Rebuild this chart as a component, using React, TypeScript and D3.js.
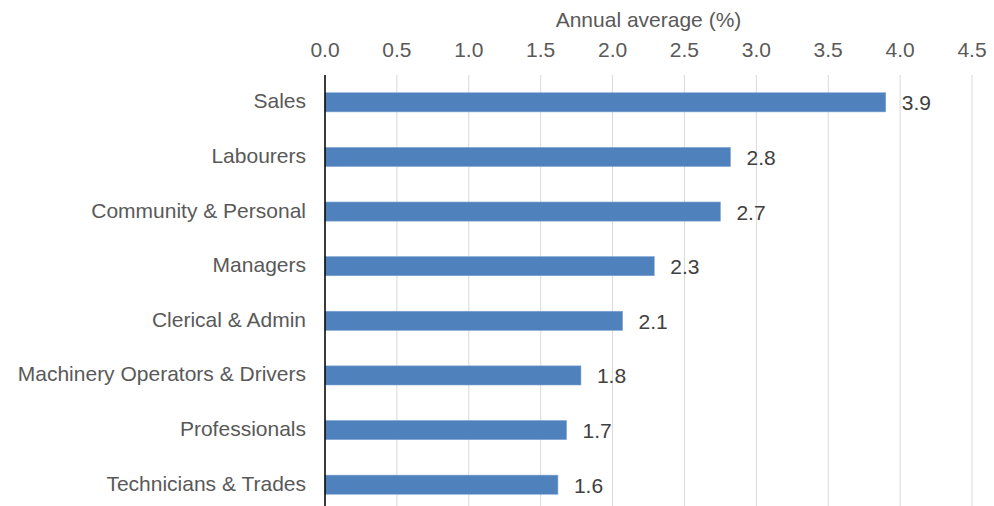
import React from "react";
import * as d3 from "d3";

const categories = [
  "Sales",
  "Labourers",
  "Community & Personal",
  "Managers",
  "Clerical & Admin",
  "Machinery Operators & Drivers",
  "Professionals",
  "Technicians & Trades",
];
const values = [3.9, 2.82, 2.75, 2.29, 2.07, 1.78, 1.68, 1.62];
const valueLabels = ["3.9", "2.8", "2.7", "2.3", "2.1", "1.8", "1.7", "1.6"];
const ticks = [0, 0.5, 1, 1.5, 2, 2.5, 3, 3.5, 4, 4.5];
const axisTitle = "Annual average (%)";

const W = 994;
const H = 506;
const left = 325;
const right = 972;
const top = 75;
const bottom = 512;

export default function App() {
  const x = d3.scaleLinear().domain([0, 4.5]).range([left, right]);
  const y = d3.scaleBand<string>().domain(categories).range([top, bottom]).paddingInner(0.65).paddingOuter(0.325);
  const font = "'Liberation Sans', Arial, sans-serif";
  const fs = 21;
  return (
    <svg width={W} height={H} style={{ position: "absolute", left: 0, top: 0 }} fontFamily={font}>
      <rect width={W} height={H} fill="#ffffff" />
      <text x={(left + right) / 2} y={27} textAnchor="middle" fontSize={fs} fill="#595959">{axisTitle}</text>
      {ticks.map((t) => (
        <g key={t}>
          <line x1={x(t)} x2={x(t)} y1={top} y2={H} stroke="#D9D9D9" strokeWidth={1} />
          <text x={x(t)} y={57} textAnchor="middle" fontSize={fs} fill="#595959">{t.toFixed(1)}</text>
        </g>
      ))}
      {categories.map((c, i) => {
        const yy = y(c)!;
        const bw = y.bandwidth();
        const cy = yy + bw / 2;
        return (
          <g key={c}>
            <rect x={x(0)} y={yy} width={x(values[i]) - x(0)} height={bw} fill="#4F81BD" stroke="#7FA3D1" strokeWidth={0.6} />
            <text x={306} y={cy + 6} textAnchor="end" fontSize={fs} fill="#595959">{c}</text>
            <text x={x(values[i]) + 16} y={cy + 8} textAnchor="start" fontSize={fs} fill="#404040">{valueLabels[i]}</text>
          </g>
        );
      })}
      <line x1={x(0)} x2={x(0)} y1={top} y2={H} stroke="#000000" strokeWidth={1.5} />
    </svg>
  );
}
